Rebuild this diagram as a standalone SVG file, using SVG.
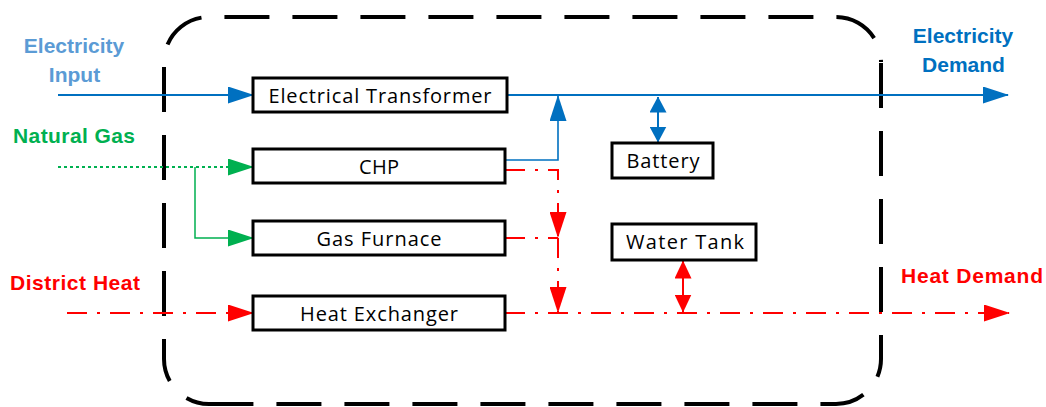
<svg xmlns="http://www.w3.org/2000/svg" width="1046" height="407" viewBox="0 0 1046 407">
<style>
.frame{fill:none;stroke:#000;stroke-width:4;stroke-dasharray:45 23}
.box{fill:#fff;stroke:#000;stroke-width:3}
.lbl{font-family:"Open Sans","Liberation Sans",sans-serif;font-size:20px;fill:#000;text-anchor:middle}
.ttl{font-family:"Liberation Sans","Open Sans",sans-serif;font-size:21px;font-weight:bold}
.blue{fill:none;stroke:#0070C0;stroke-width:2}
.bluethin{fill:none;stroke:#0070C0;stroke-width:1.6}
.red{fill:none;stroke:#FF0000;stroke-width:2;stroke-dasharray:20 10 3 10}
.gdot{fill:none;stroke:#00B050;stroke-width:2;stroke-dasharray:3 3}
.gsol{fill:none;stroke:#00B050;stroke-width:1.5}
</style>
<defs>
<marker id="blueL" markerUnits="userSpaceOnUse" markerWidth="26" markerHeight="17" refX="25" refY="8.5" orient="auto-start-reverse"><path d="M0,0 L26,8.5 L0,17 z" fill="#0070C0"/></marker>
<marker id="blueS" markerUnits="userSpaceOnUse" markerWidth="16" markerHeight="17" refX="15.5" refY="8.5" orient="auto-start-reverse"><path d="M0,0 L16,8.5 L0,17 z" fill="#0070C0"/></marker>
<marker id="redL" markerUnits="userSpaceOnUse" markerWidth="26" markerHeight="17" refX="25" refY="8.5" orient="auto-start-reverse"><path d="M0,0 L26,8.5 L0,17 z" fill="#FF0000"/></marker>
<marker id="redS" markerUnits="userSpaceOnUse" markerWidth="18" markerHeight="17" refX="17.5" refY="8.5" orient="auto-start-reverse"><path d="M0,0 L18,8.5 L0,17 z" fill="#FF0000"/></marker>
<marker id="greenL" markerUnits="userSpaceOnUse" markerWidth="26" markerHeight="17" refX="25" refY="8.5" orient="auto"><path d="M0,0 L26,8.5 L0,17 z" fill="#00B050"/></marker>
</defs>
<rect width="1046" height="407" fill="#fff"/>

<g id="boundary">
<path class="frame" d="M164,62 A45,45 0 0 1 209,17 H836 A45,45 0 0 1 881,62" stroke-dashoffset="50"/>
<path class="frame" d="M164,62 V359" stroke-dashoffset="63"/>
<path class="frame" d="M881,62 V359" stroke-dashoffset="67"/>
<path class="frame" d="M164,359 A45,45 0 0 0 209,404 H836 A45,45 0 0 0 881,359" style="stroke-dasharray:23 24 68 23 45 23 45 23 45 23 45 23 45 23 45 23 45 23 45 23 45 23"/>
</g>

<g id="connectors">
<path class="blue" d="M58,95 H253" marker-end="url(#blueL)"/>
<path class="blue" d="M507,95 H1008" marker-end="url(#blueL)"/>
<path class="bluethin" d="M505,160 H558 V96" marker-end="url(#blueL)"/>
<path class="blue" d="M658,97 V142" marker-start="url(#blueS)" marker-end="url(#blueS)"/>
<path class="gdot" d="M58,167 H253" marker-end="url(#greenL)"/>
<path class="gsol" d="M195,167 V238 H253" marker-end="url(#greenL)"/>
<path class="red" d="M67,313 H253" marker-end="url(#redL)"/>
<path class="red" d="M505,313 H1009" marker-end="url(#redL)"/>
<path class="red" d="M505,170 H558 V237" marker-end="url(#redL)"/>
<path class="red" d="M505,238 H558"/>
<path class="red" d="M558,238 V312" marker-end="url(#redL)"/>
<path class="red" d="M683,261 V312" style="stroke-dasharray:none" marker-start="url(#redS)" marker-end="url(#redS)"/>
</g>

<g id="n-transformer"><rect class="box" x="253" y="78" width="254" height="34"/><text class="lbl" x="380" y="102.5" textLength="223">Electrical Transformer</text></g>
<g id="n-chp"><rect class="box" x="253" y="149" width="252" height="34"/><text class="lbl" x="379" y="173.5" textLength="40">CHP</text></g>
<g id="n-furnace"><rect class="box" x="253" y="221" width="252" height="34"/><text class="lbl" x="379" y="245.5" textLength="125">Gas Furnace</text></g>
<g id="n-exchanger"><rect class="box" x="253" y="296" width="252" height="34"/><text class="lbl" x="379" y="320.5" textLength="158">Heat Exchanger</text></g>
<g id="n-battery"><rect class="box" x="612" y="143" width="101" height="35"/><text class="lbl" x="663" y="167.5" textLength="73">Battery</text></g>
<g id="n-watertank"><rect class="box" x="612" y="224" width="144" height="36"/><text class="lbl" x="685" y="249" textLength="118">Water Tank</text></g>

<g id="labels">
<text class="ttl" fill="#5B9BD5" text-anchor="middle"><tspan x="74" y="53">Electricity</tspan><tspan x="74.5" y="82">Input</tspan></text>
<text class="ttl" fill="#00B050" x="13" y="143" textLength="122">Natural Gas</text>
<text class="ttl" fill="#FF0000" x="10" y="290" textLength="130">District Heat</text>
<text class="ttl" fill="#FF0000" x="901" y="283" textLength="142">Heat Demand</text>
<text class="ttl" fill="#0070C0" text-anchor="middle"><tspan x="963" y="43">Electricity</tspan><tspan x="963.5" y="72">Demand</tspan></text>
</g>
</svg>
